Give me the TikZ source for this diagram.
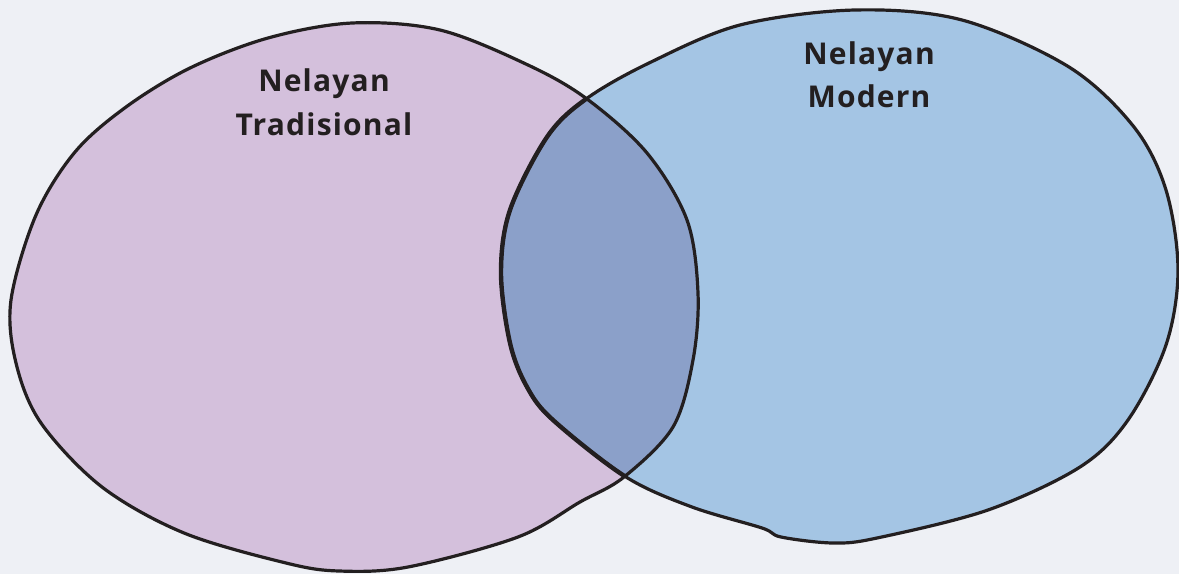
\documentclass[tikz,border=0pt]{standalone}
\usepackage{fontspec}
\setmainfont{Open Sans}[LetterSpace=4]
\definecolor{bgc}{HTML}{EEF0F5}
\definecolor{pinkc}{HTML}{D4C0DC}
\definecolor{bluec}{HTML}{A4C5E4}
\definecolor{overc}{HTML}{8BA0C9}
\definecolor{inkc}{HTML}{231F20}
\tikzset{
  outline/.style={draw=inkc, line width=3.2pt, line join=round},
  lbl/.style={anchor=base, text=inkc, font=\fontsize{30}{34}\selectfont\bfseries, inner sep=0pt},
}
\begin{document}
\begin{tikzpicture}[x=1pt,y=-1pt]
\fill[bgc] (0,0) rectangle (1179,574);
\useasboundingbox (0,0) rectangle (1179,574);
\def\leftpath{plot[smooth cycle, tension=0.55] coordinates {(11,300) (16,363) (41,423) (102,487) (184,533) (286,563) (339,571) (408,567) (518,537) (580,502) (624,477) (673,427) (693,360) (698,293) (687,220) (647,153) (587,99) (528,65) (440,30) (352,23) (268,38) (190,68) (126,107) (75,152) (36,215)}}
\def\rightpath{plot[smooth cycle, tension=0.55] coordinates {(586,99) (649,63) (740,25) (855,10) (962,20) (1069,67) (1134,127) (1166,190) (1178,270) (1166,345) (1128,420) (1080,467) (988,510) (877,538) (833,543) (781,537) (762,528) (692,507) (626,477) (553,420) (527,387) (510,343) (501,273) (510,210) (547,137)}}
\fill[pinkc] \leftpath;
\fill[bluec] \rightpath;
\begin{scope}
  \clip \leftpath;
  \fill[overc] \rightpath;
\end{scope}
\draw[outline] \leftpath;
\draw[outline] \rightpath;
\begin{scope}
  \clip \leftpath;
  \draw[outline, line width=4.4pt] \rightpath;
\end{scope}
\node[lbl] (tradA) at (324,91) {Nelayan};
\node[lbl] (tradB) at (324,135) {Tradisional};
\node[lbl] (modA) at (869,64) {Nelayan};
\node[lbl] (modB) at (869,107) {Modern};
\end{tikzpicture}
\end{document}
